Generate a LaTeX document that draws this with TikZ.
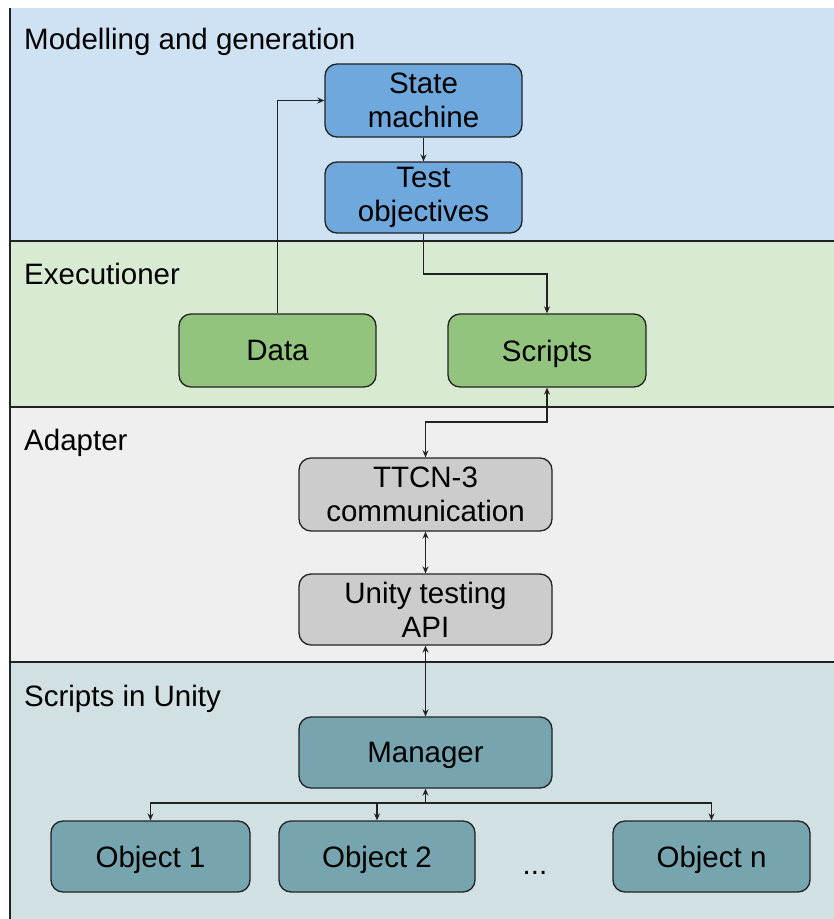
\documentclass[tikz,border=0pt]{standalone}
\usepackage{fontspec}
\setmainfont{Liberation Sans}
\usetikzlibrary{arrows.meta}

\definecolor{bandBlue}{HTML}{CFE2F3}
\definecolor{bandGreen}{HTML}{D9EAD3}
\definecolor{bandGray}{HTML}{EFEFEF}
\definecolor{bandTeal}{HTML}{D0E0E3}
\definecolor{boxBlue}{HTML}{6FA8DC}
\definecolor{boxGreen}{HTML}{93C47D}
\definecolor{boxGray}{HTML}{CCCCCC}
\definecolor{boxTeal}{HTML}{76A5AF}
\definecolor{ink}{HTML}{222222}

\tikzset{
  box/.style={draw=ink, line width=1.3pt, rounded corners=12pt, align=center,
    inner sep=0pt, font=\fontsize{29.5}{34}\selectfont, text=black},
  onebox/.style={box, text depth=0pt},
  bandlabel/.style={anchor=base west, inner sep=0pt, font=\fontsize{29.5}{34}\selectfont},
  conn/.style={draw=ink, line width=1.2pt},
  arr/.style={conn, -{Stealth[length=7pt,width=6pt]}},
  arrboth/.style={conn, {Stealth[length=7pt,width=6pt]}-{Stealth[length=7pt,width=6pt]}},
  bandline/.style={draw=ink, line width=1.4pt}
}

\begin{document}
\begin{tikzpicture}[x=1pt,y=-1pt]
  \useasboundingbox (0,0) rectangle (834,919);

  % swim-lane bands
  \fill[bandBlue]  (10,8)   rectangle (834,241);
  \fill[bandGreen] (10,241) rectangle (834,407);
  \fill[bandGray]  (10,407) rectangle (834,662);
  \fill[bandTeal]  (10,662) rectangle (834,919);
  \draw[bandline] (10,8) -- (10,919);
  \draw[bandline] (10,241) -- (834,241);
  \draw[bandline] (10,407) -- (834,407);
  \draw[bandline] (10,662) -- (834,662);

  % band titles
  \node[bandlabel] (lModel) at (24,49)  {Modelling and generation};
  \node[bandlabel] (lExec)  at (24,284) {Executioner};
  \node[bandlabel] (lAdapt) at (24,450) {Adapter};
  \node[bandlabel] (lUnity) at (24,706) {Scripts in Unity};

  % modelling
  \node[box, fill=boxBlue, minimum width=197pt, minimum height=73pt] (sm) at (423.5,100.5) {State\\machine};
  \node[box, fill=boxBlue, minimum width=197pt, minimum height=71pt] (to) at (423.5,197.5) {Test\\objectives};

  % execution
  \node[onebox, fill=boxGreen, minimum width=197pt, minimum height=73pt] (data) at (277.5,350.5) {Data};
  \node[onebox, fill=boxGreen, minimum width=198pt, minimum height=73pt] (scripts) at (547,350.5) {Scripts};

  % adapter
  \node[box, fill=boxGray, minimum width=253pt, minimum height=73pt] (ttcn) at (425.5,494.5) {TTCN-3\\communication};
  \node[box, fill=boxGray, minimum width=253pt, minimum height=71pt] (api) at (425.5,609.5) {Unity testing\\API};

  % unity side
  \node[onebox, fill=boxTeal, minimum width=253pt, minimum height=71pt] (mgr) at (425.5,752.5) {Manager};
  \node[onebox, fill=boxTeal, minimum width=199pt, minimum height=71pt] (o1) at (150.5,856.5) {Object 1};
  \node[onebox, fill=boxTeal, minimum width=196pt, minimum height=71pt] (o2) at (377,856.5) {Object 2};
  \node[onebox, fill=boxTeal, minimum width=197pt, minimum height=71pt] (on) at (711.5,856.5) {Object n};
  \node[anchor=base, inner sep=0pt, font=\fontsize{29.5}{34}\selectfont] (dots) at (535,874) {...};

  % connectors
  \draw[arr] (sm) -- (to);
  \draw[arr] (data.north) |- (sm.west);
  \draw[arr] (to.south) -- (to.south |- 0,274) -| (scripts.north);
  \draw[arrboth] (scripts.south) -- (scripts.south |- 0,422) -| (ttcn.north);
  \draw[arrboth] (ttcn) -- (api);
  \draw[arrboth] (api) -- (mgr);

  \coordinate (fork) at (mgr.south |- 0,803);
  \draw[arr] (fork) -- (mgr.south);
  \draw[arr] (fork) -| (o1.north);
  \draw[arr] (fork) -| (o2.north);
  \draw[arr] (fork) -| (on.north);
\end{tikzpicture}
\end{document}
